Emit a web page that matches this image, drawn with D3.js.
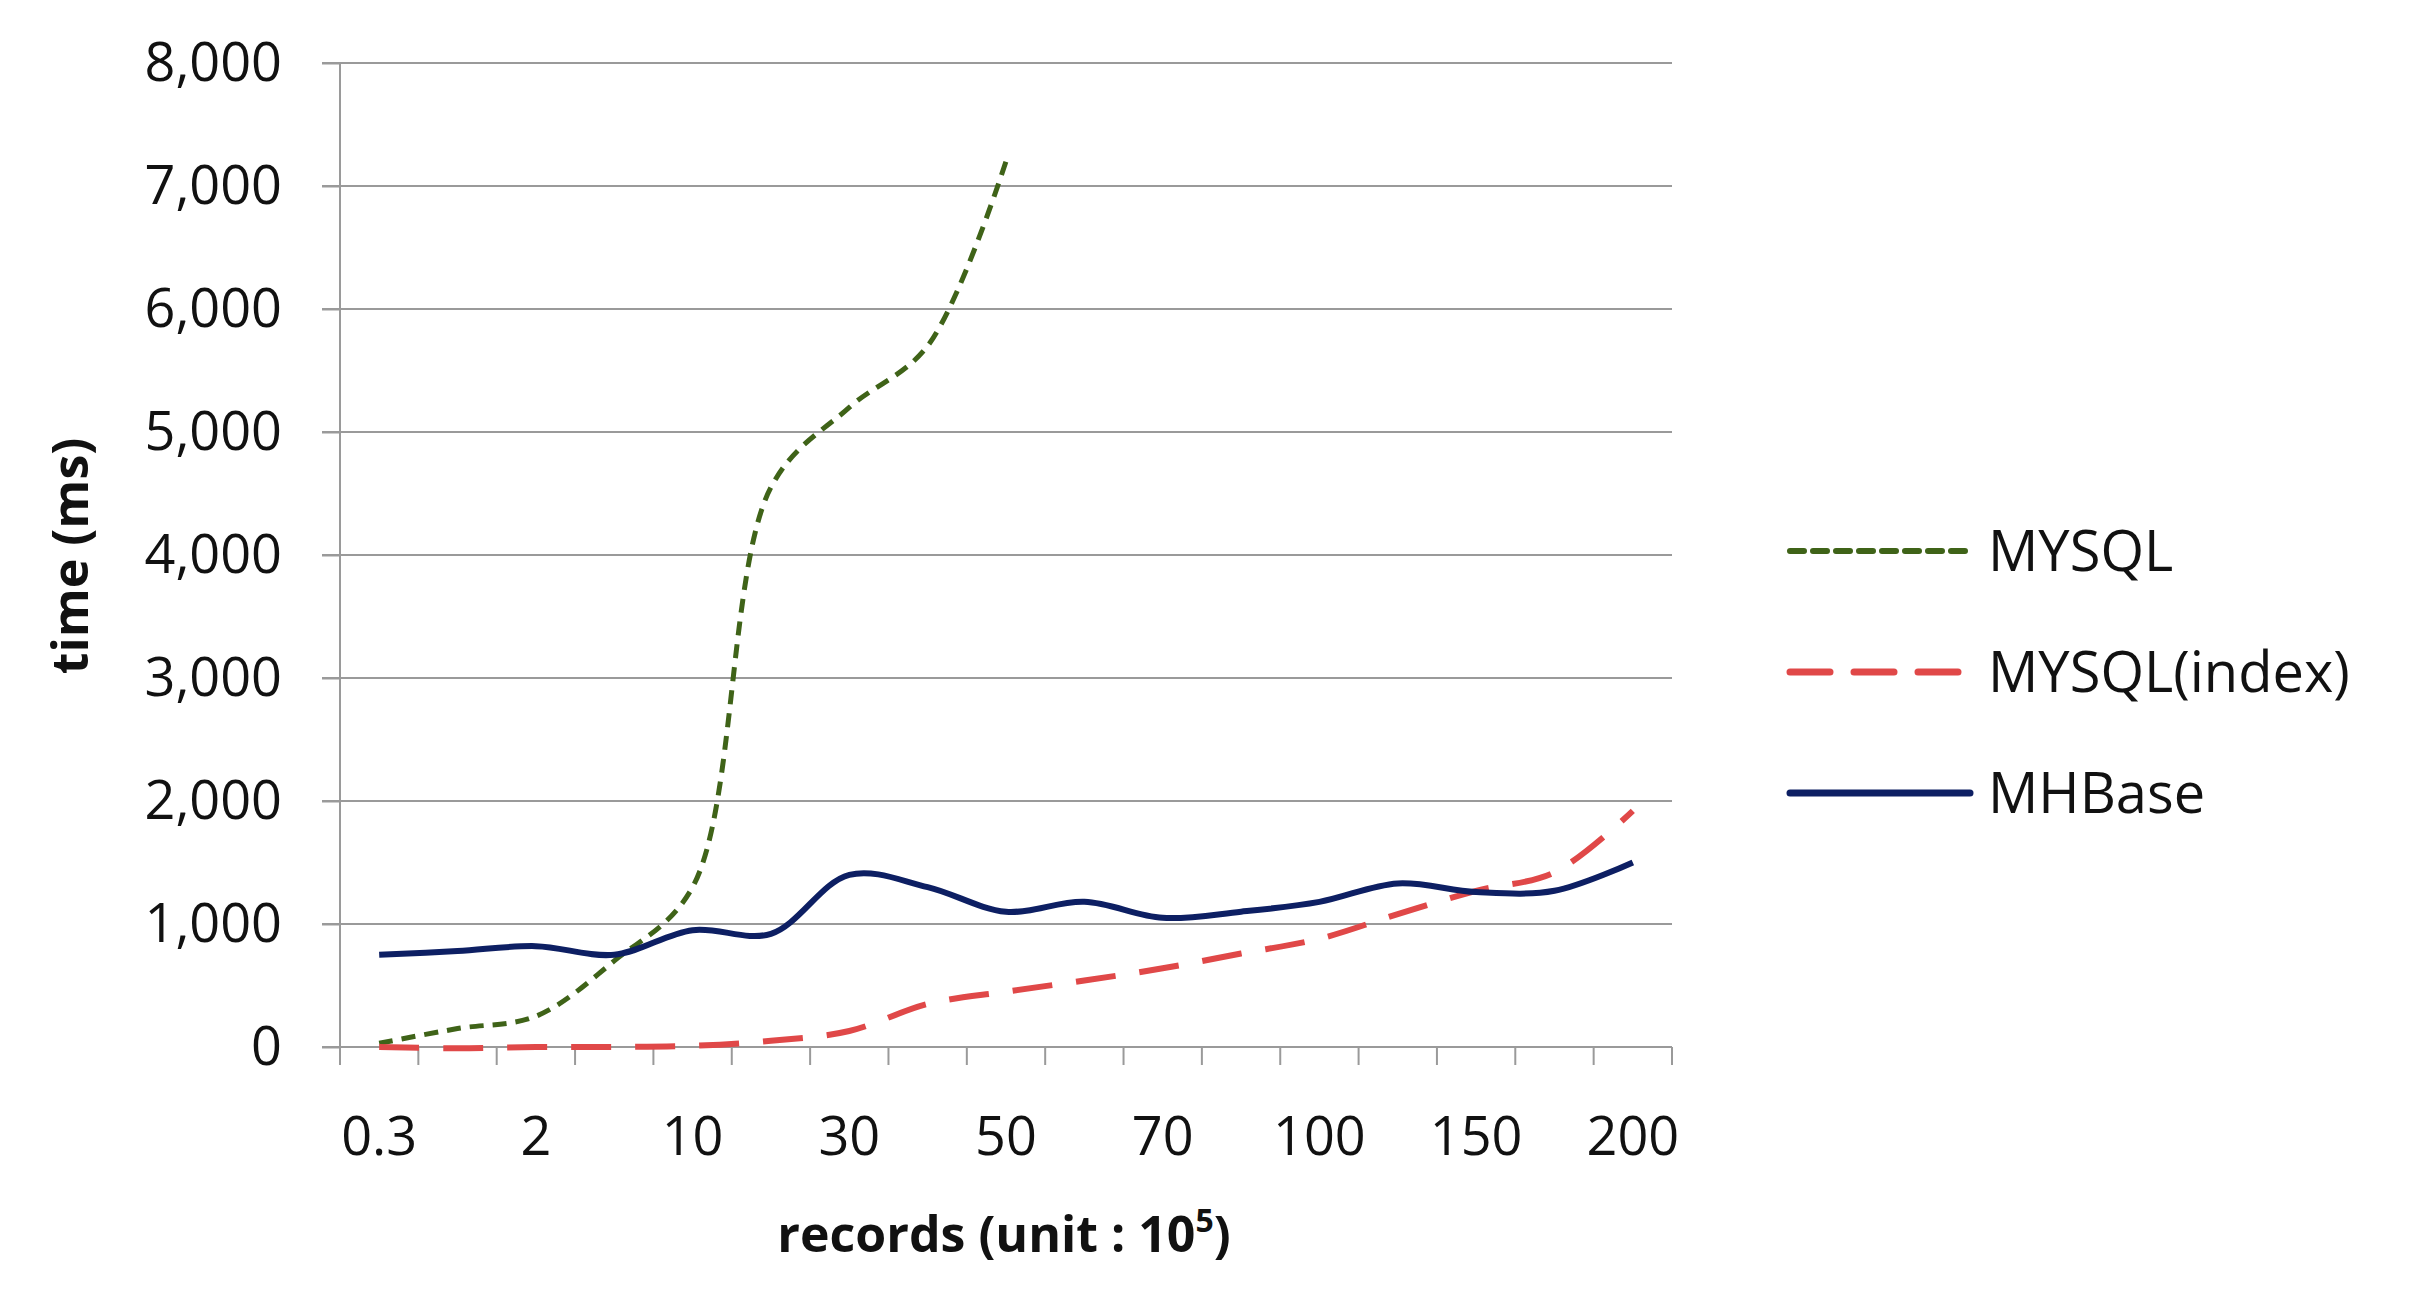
<!DOCTYPE html>
<html>
<head>
<meta charset="utf-8">
<script src="https://cdn.jsdelivr.net/npm/d3@7"></script>
<style>
  body { margin: 0; background: #fff; }
  text { font-family: "Open Sans", "Noto Sans", sans-serif; fill: #111; }
</style>
</head>
<body>
<div id="chart"></div>
<script>
// categories (only every other one is labelled in the original)
const categories = ["0.3", "1", "2", "5", "10", "20", "30", "40", "50", "60", "70", "80", "100", "120", "150", "180", "200"]
const shownLabels = ["0.3", "2", "10", "30", "50", "70", "100", "150", "200"]
const yTicks = [0, 1000, 2000, 3000, 4000, 5000, 6000, 7000, 8000]

const mysql = [30, 150, 250, 700, 1300, 4550, 5200, 5700, 7200]
const mysqlIndex = [0, -10, 0, 0, 10, 50, 130, 350, 450, 540, 640, 760, 880, 1080, 1270, 1420, 1920]
const mhbase = [750, 780, 820, 750, 950, 920, 1400, 1300, 1100, 1180, 1050, 1100, 1180, 1330, 1260, 1270, 1500]

const series = [
    { name: "MYSQL", values: mysql, color: "#3f6318", width: 5, dash: "14,9" },
    { name: "MYSQL(index)", values: mysqlIndex, color: "#e04848", width: 6, dash: "40,24" },
    { name: "MHBase", values: mhbase, color: "#0d1f63", width: 6, dash: null }
]

const w = 2409, h = 1297
const mLeft = 340, mRight = 1672, mTop = 63, mBottom = 1047

const svg = d3.select('#chart').append('svg')
    .attr('width', w)
    .attr('height', h)

const xScale = d3.scaleBand().domain(categories).range([mLeft, mRight])
const yScale = d3.scaleLinear().domain([0, 8000]).range([mBottom, mTop])
const xc = d => xScale(d) + xScale.bandwidth() / 2

// grid lines
svg.append('g')
    .selectAll('line')
    .data(yTicks)
    .enter()
    .append('line')
    .attr('x1', mLeft - 18)
    .attr('x2', mRight)
    .attr('y1', d => yScale(d))
    .attr('y2', d => yScale(d))
    .attr('stroke', '#9a9a9a')
    .attr('stroke-width', 2)

// y axis
const yAxis = d3.axisLeft(yScale).tickValues(yTicks).tickSize(18).tickPadding(40)
const gy = svg.append('g').attr('transform', `translate(${mLeft},0)`).call(yAxis)
gy.selectAll('line,path').attr('stroke', '#9a9a9a').attr('stroke-width', 2)
gy.select('.domain').remove()
svg.append('line').attr('x1', mLeft).attr('x2', mLeft).attr('y1', mTop).attr('y2', mBottom)
    .attr('stroke', '#9a9a9a').attr('stroke-width', 2)
gy.selectAll('text').style('font-size', '54px').style('font-family', '"Open Sans", sans-serif').attr('fill', '#111')

// x axis: tick marks at band edges, labels on every other band
const edges = categories.map(c => xScale(c)).concat([mRight])
svg.append('g')
    .selectAll('line')
    .data(edges)
    .enter()
    .append('line')
    .attr('x1', d => d).attr('x2', d => d)
    .attr('y1', mBottom).attr('y2', mBottom + 18)
    .attr('stroke', '#9a9a9a').attr('stroke-width', 2)

svg.append('g')
    .selectAll('text')
    .data(shownLabels)
    .enter()
    .append('text')
    .attr('x', d => xc(d))
    .attr('y', 1155)
    .attr('text-anchor', 'middle')
    .style('font-size', '54px')
    .text(d => d)

// lines
const line = d3.line()
    .x((d, i) => xc(categories[i]))
    .y(d => yScale(d))
    .curve(d3.curveCatmullRom.alpha(0.5))

series.forEach(s => {
    svg.append('path')
        .datum(s.values)
        .attr('d', line)
        .attr('fill', 'none')
        .attr('stroke', s.color)
        .attr('stroke-width', s.width)
        .attr('stroke-dasharray', s.dash)
})

// axis titles
svg.append('text')
    .attr('transform', 'translate(88,556) rotate(-90)')
    .attr('text-anchor', 'middle')
    .style('font-size', '50px')
    .style('font-weight', 'bold')
    .text('time (ms)')

const xt = svg.append('text')
    .attr('x', 1004).attr('y', 1252)
    .attr('text-anchor', 'middle')
    .style('font-size', '50px')
    .style('font-weight', 'bold')
xt.append('tspan').text('records (unit : 10')
xt.append('tspan').attr('dy', -20).style('font-size', '32px').text('5')
xt.append('tspan').attr('dy', 20).text(')')

// legend
const legend = svg.append('g')
legend.selectAll('line')
    .data(series)
    .enter()
    .append('line')
    .attr('x1', 1790).attr('x2', 1970)
    .attr('y1', (d, i) => 551 + i * 121)
    .attr('y2', (d, i) => 551 + i * 121)
    .attr('stroke', d => d.color)
    .attr('stroke-width', d => d.width + 1)
    .attr('stroke-dasharray', d => d.dash)
    .attr('stroke-linecap', 'round')

legend.selectAll('text')
    .data(series)
    .enter()
    .append('text')
    .attr('x', 1988)
    .attr('y', (d, i) => 551 + i * 121 + 20)
    .style('font-size', '56px')
    .text(d => d.name)
</script>
</body>
</html>
